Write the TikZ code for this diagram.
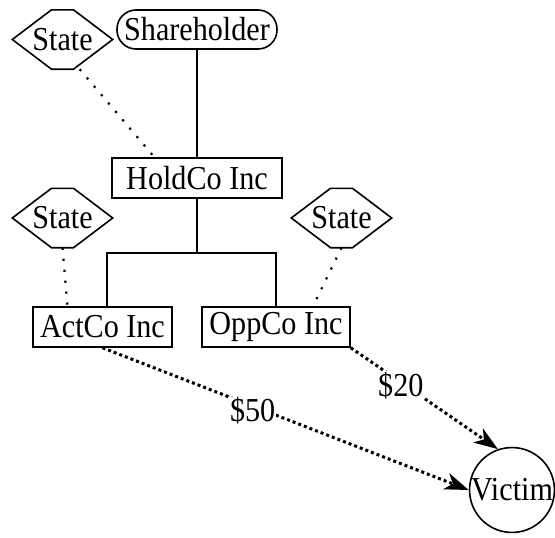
\documentclass[tikz,border=0pt]{standalone}
\usepackage{fontspec}
\setmainfont{Liberation Serif}[FakeStretch=0.9]
\usetikzlibrary{calc,arrows.meta}

\tikzset{
  corp/.style={draw, line width=1.6pt, inner sep=0pt, minimum height=40pt},
  statebox/.style={inner sep=0pt, minimum width=100pt, minimum height=59pt},
  dotlink/.style={line width=2.2pt, dash pattern=on 2.2pt off 8.8pt},
  payment/.style={line width=3pt, dash pattern=on 3pt off 3pt,
    -{Stealth[length=24pt,width=17pt,inset=7pt]}},
  amount/.style={fill=white, inner sep=1pt}
}

\begin{document}
\begin{tikzpicture}[x=1pt,y=-1pt,font=\fontsize{33.5}{38}\selectfont]
			\useasboundingbox (0,0) rectangle (555,538);
			
			% owners and companies
			\node[corp, rounded corners=19pt, minimum width=160pt, minimum height=39pt] (share) at (197,29.5) {Shareholder};
			\node[corp, minimum width=170pt] (hold) at (197,178) {HoldCo Inc};
			\node[corp, minimum width=139pt] (act) at (102.5,327) {ActCo Inc};
			\node[corp, minimum width=148pt] (opp) at (276,327) {OppCo Inc};
			\node[draw, circle, line width=1.6pt, inner sep=0pt, minimum size=84pt] (vic) at (512,490) {Victim};
			
			% states
			\node[statebox] (stA) at (62.5,39.5) {State};
			\node[statebox] (stB) at (62.5,218) {State};
			\node[statebox] (stC) at (341.5,218) {State};
			\foreach \s in {stA,stB,stC}
				\draw[line width=1.6pt] ($(\s.north)+(-11,0)$) -- ($(\s.north)+(11,0)$) -- (\s.east)
					-- ($(\s.south)+(11,0)$) -- ($(\s.south)+(-11,0)$) -- (\s.west) -- cycle;
			
			% ownership
			\coordinate (fork) at (197,253);
			\draw[line width=1.6pt] (share) -- (hold);
			\draw[line width=1.6pt] (hold) -- (fork);
			\draw[line width=1.6pt] ([xshift=4.5pt]act.north) |- (fork) -| (opp.north);
			
			\draw[dotlink] (stA.-60) -- (hold.154);
			\draw[dotlink] (stB.south) -- ([xshift=-35pt]act.north);
			\draw[dotlink] (stC.south) -- ([xshift=37pt]opp.north);
			
			% payments
			\draw[payment] (act.south) -- node[amount, pos=0.41, yshift=-5pt] {\$50} (vic.west);
			\draw[payment] (opp.south east) -- node[amount, pos=0.34, yshift=-3pt] {\$20} (vic.109);
		\end{tikzpicture}
\end{document}
